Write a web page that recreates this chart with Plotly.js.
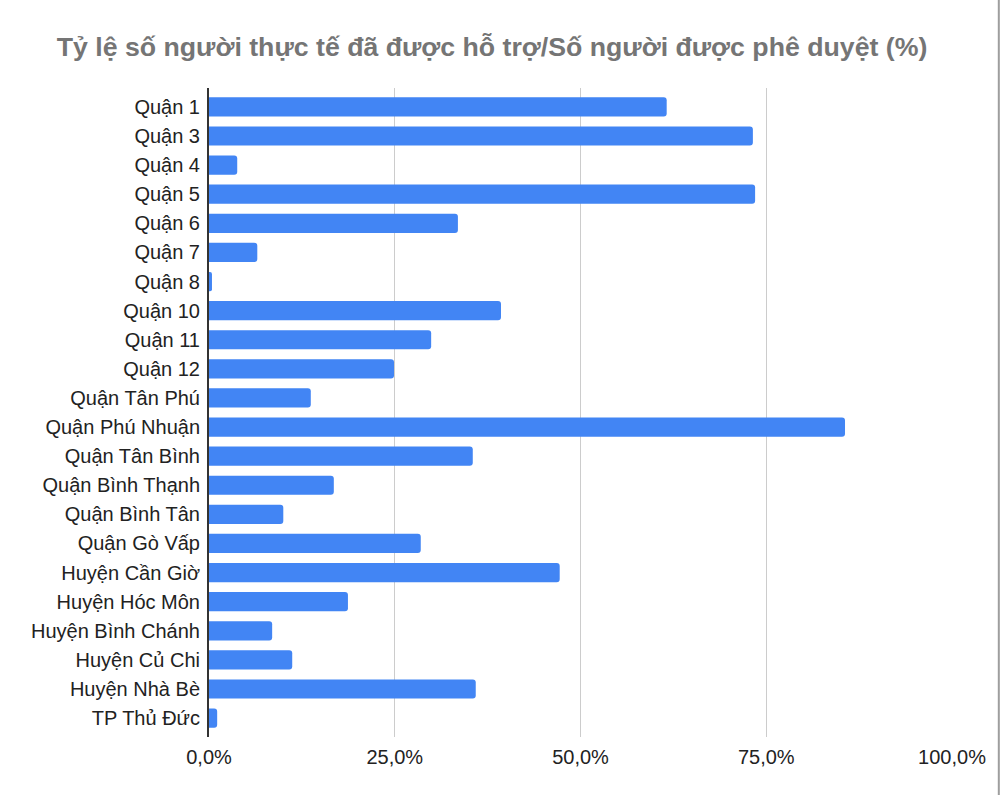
<!DOCTYPE html>
<html>
<head>
<meta charset="utf-8">
<script src="https://cdn.plot.ly/plotly-3.0.1.min.js"></script>
<style>
  html, body { margin: 0; padding: 0; background: #fff; }
  #chart { width: 1000px; height: 795px; }
</style>
</head>
<body>
<div id="chart"></div>
<script>
// districts, top to bottom
const districts = [
  'Quận 1', 'Quận 3', 'Quận 4', 'Quận 5', 'Quận 6', 'Quận 7', 'Quận 8',
  'Quận 10', 'Quận 11', 'Quận 12', 'Quận Tân Phú', 'Quận Phú Nhuận',
  'Quận Tân Bình', 'Quận Bình Thạnh', 'Quận Bình Tân', 'Quận Gò Vấp',
  'Huyện Cần Giờ', 'Huyện Hóc Môn', 'Huyện Bình Chánh', 'Huyện Củ Chi',
  'Huyện Nhà Bè', 'TP Thủ Đức'
]

// share of approved people actually supported (fraction)
const ratio = [
  0.616, 0.732, 0.038, 0.735, 0.335, 0.065, 0.004,
  0.393, 0.299, 0.249, 0.137, 0.856,
  0.355, 0.168, 0.100, 0.285,
  0.472, 0.187, 0.085, 0.112,
  0.359, 0.011
]

const xTicks = [0, 0.25, 0.5, 0.75, 1]

const trace = {
  type: 'bar',
  orientation: 'h',
  y: districts,
  x: ratio,
  marker: { color: '#4285f4', cornerradius: 3 },
  hoverinfo: 'x+y'
}

const layout = {
  width: 1000,
  height: 795,
  separators: ',.',
  paper_bgcolor: '#fff',
  plot_bgcolor: '#fff',
  bargap: 0.34,
  showlegend: false,
  margin: { l: 209, r: 48, t: 88, b: 58 },
  font: { family: 'Liberation Sans, Arial, sans-serif', color: '#222', size: 20 },
  title: {
    text: '<b>Tỷ lệ số người thực tế đã được hỗ trợ/Số người được phê duyệt (%)</b>',
    font: { family: 'Liberation Sans, Arial, sans-serif', size: 26.7, color: '#757575' },
    x: 0.492, xanchor: 'center',
    y: 0.941, yanchor: 'middle'
  },
  xaxis: {
    range: [0, 1],
    tickvals: xTicks,
    tickformat: '.1%',
    showgrid: true,
    gridcolor: '#cccccc',
    gridwidth: 1,
    zeroline: false,
    showline: false,
    ticks: '',
    ticklabelstandoff: 6,
    tickfont: { size: 20, color: '#222' }
  },
  yaxis: {
    type: 'category',
    categoryorder: 'array',
    categoryarray: districts,
    range: [21.65, -0.65],
    showgrid: false,
    zeroline: false,
    showline: true,
    linecolor: '#333',
    linewidth: 2,
    ticks: '',
    ticklabelstandoff: 3,
    tickfont: { size: 20, color: '#222' }
  },
  shapes: [
    // edge of the neighbouring panel at the right border
    { type: 'line', xref: 'paper', yref: 'paper', x0: 1.063, x1: 1.063, y0: -0.1, y1: 1.15,
      line: { color: '#9e9e9e', width: 2 } }
  ]
}

Plotly.newPlot('chart', [trace], layout, { displayModeBar: false, staticPlot: true })
</script>
</body>
</html>
